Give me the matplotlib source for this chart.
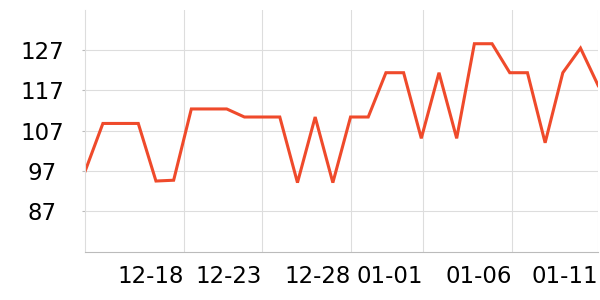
import matplotlib
matplotlib.use("Agg")
import matplotlib.pyplot as plt

# values, one per day from 12-13 to 01-11
values = [97, 108.8, 108.8, 108.8, 94.5, 94.7, 112.4, 112.4, 112.4, 110.4,
          110.4, 110.4, 94.1, 110.4, 94.1, 110.4, 110.4, 121.4, 121.4, 105.1,
          121.4, 105.1, 128.6, 128.6, 121.4, 121.4, 104.0, 121.4, 127.5, 118.2]
tick_pos = [5.6, 10, 15, 19.1, 24.1, 29]
tick_labels = ["12-18", "12-23", "12-28", "01-01", "01-06", "01-11"]
y_ticks = [87, 97, 107, 117, 127]

fig = plt.figure(figsize=(6, 3), dpi=100)
ax = fig.add_axes([0.142, 0.159, 0.855, 0.808])

x = list(range(len(values)))
ax.plot(x, values, color="#ef4a2b", lw=2.2, solid_joinstyle="miter")

ax.set_xlim(0, len(values) - 1)
ax.set_ylim(76.8, 137)
ax.set_xticks(tick_pos)
ax.set_xticklabels(tick_labels, ha="right")
ax.set_yticks(y_ticks)
ax.set_yticklabels([str(v) for v in y_ticks], ha="center")

ax.grid(True, color="#dddddd", lw=0.8)
ax.set_axisbelow(True)
for s in ["top", "right"]:
    ax.spines[s].set_visible(False)
ax.spines["bottom"].set_color("#bbbbbb")
ax.spines["left"].set_color("#dddddd")
ax.tick_params(axis="x", length=0, pad=9, labelsize=16.5)
ax.tick_params(axis="y", length=2, color="#bbbbbb", pad=29, labelsize=16.5)

fig.savefig("out.png", dpi=100)
